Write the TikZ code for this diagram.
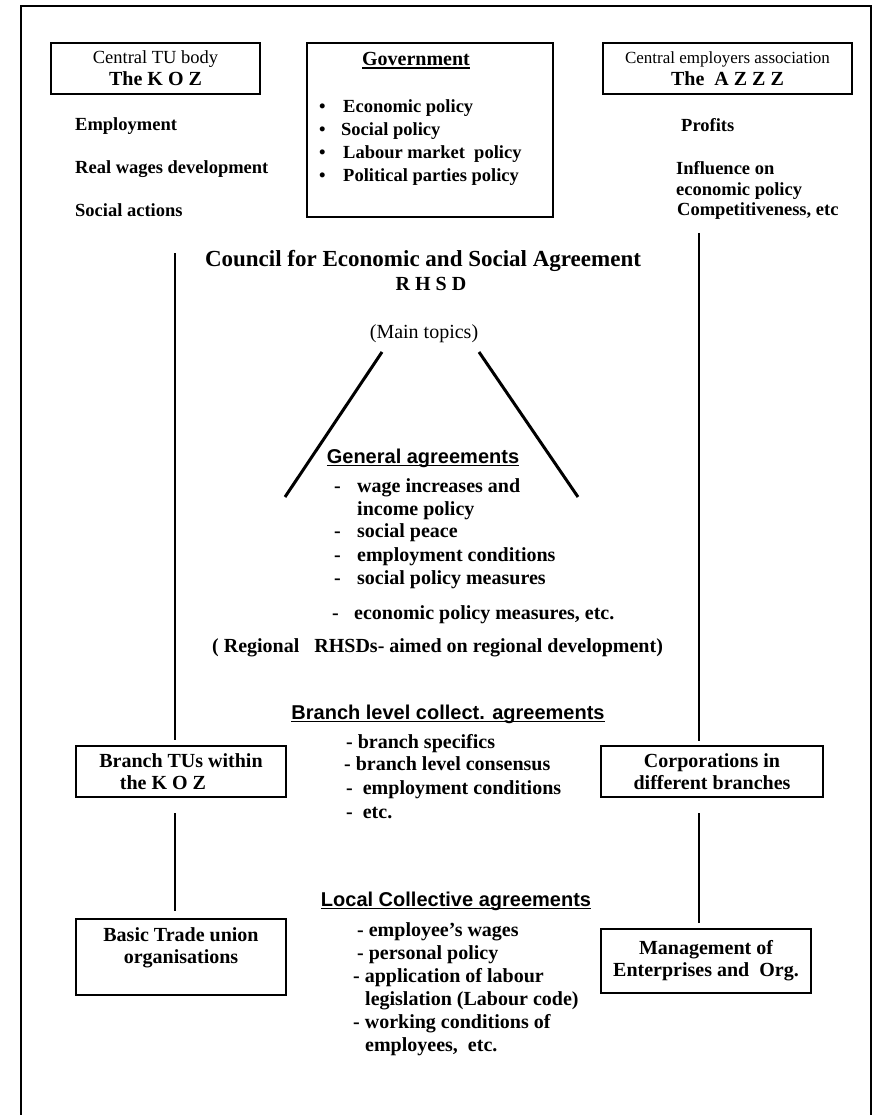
\documentclass[tikz,border=0pt]{standalone}
\usepackage{fontspec}
\setmainfont{Liberation Serif}
\newfontfamily\arialfont{Liberation Sans}
\newcommand{\ulx}[1]{{\setbox0\hbox{#1}\rlap{\rule[-3pt]{\wd0}{1.5pt}}\box0}}
\tikzset{
  box/.style={draw, line width=2.6pt, inner sep=0pt, align=center, font=\fontsize{20}{22}\selectfont\bfseries},
  txt/.style={inner sep=0pt, anchor=base west, font=\fontsize{20}{23}\selectfont\bfseries},
  mid/.style={inner sep=0pt, anchor=base west, font=\fontsize{18.5}{22}\selectfont\bfseries},
  head/.style={inner sep=0pt, anchor=base, font=\arialfont\fontsize{20}{23}\selectfont\bfseries},
  conn/.style={line width=2.5pt},
  diag/.style={line width=3pt},
}
\begin{document}
\begin{tikzpicture}[x=1pt,y=-1pt]
\useasboundingbox (0,0) rectangle (874,1115);
% outer frame
\draw[line width=2pt] (21,1115) -- (21,6) -- (871,6) -- (871,1115);

% top boxes
\node[box, minimum width=209pt, minimum height=51pt] (koz) at (155.5,68.5)
  {{\fontsize{18.5}{22}\selectfont\mdseries Central TU body}\\The K O Z};
\node[box, minimum width=246pt, minimum height=174pt] (gov) at (430,130) {};
\node[box, minimum width=249pt, minimum height=51pt] (azzz) at (727.5,68.5)
  {{\fontsize{17}{22}\selectfont\mdseries Central employers association}\\The\ \ A Z Z Z};

% government contents
\node[txt, anchor=base] (govt) at (416,66) {\ulx{Government}};
\node[mid] (g1) at (319,112.5) {\makebox[24pt][l]{•}Economic policy};
\node[mid] (g2) at (319,135.5) {\makebox[22pt][l]{•}Social policy};
\node[mid] (g3) at (319,158.5) {\makebox[24pt][l]{•}Labour market\ \ policy};
\node[mid] (g4) at (319,181.5) {\makebox[24pt][l]{•}Political parties policy};

% left texts
\node[mid] (l1) at (75,130.5) {Employment};
\node[mid] (l2) at (75,173.5) {Real wages development};
\node[mid] (l3) at (75,216.5) {Social actions};

% right texts
\node[mid] (r1) at (681,131.5) {Profits};
\node[mid] (r2) at (676,174.5) {Influence on};
\node[mid] (r3) at (676,195.5) {economic policy};
\node[mid] (r4) at (677,215.5) {Competitiveness, etc};

% council
\node[txt, anchor=base, font=\fontsize{23}{27}\selectfont\bfseries] (council) at (423,266) {Council for Economic and Social Agreement};
\node[txt, anchor=base] (rhsd) at (431,290) {R H S D};
\node[txt, anchor=base, font=\fontsize{20}{23}\selectfont] (topics) at (424,338) {(Main topics)};

% diagonals
\coordinate (d1a) at (382,352);
\coordinate (d1b) at (285,497);
\coordinate (d2a) at (479,352);
\coordinate (d2b) at (578,497);
\draw[diag] (d1a) -- (d1b);
\draw[diag] (d2a) -- (d2b);

% general agreements
\node[head] (gen) at (423,463) {\ulx{General agreements}};
\node[txt] (ga1) at (334,492) {\makebox[23pt][l]{-}wage increases and};
\node[txt] (ga1b) at (357,515) {income policy};
\node[txt] (ga2) at (334,537) {\makebox[23pt][l]{-}social peace};
\node[txt] (ga3) at (334,561) {\makebox[23pt][l]{-}employment conditions};
\node[txt] (ga4) at (334,584) {\makebox[23pt][l]{-}social policy measures};
\node[txt] (ga5) at (332,619) {\makebox[22pt][l]{-}economic policy measures, etc.};
\node[txt] (reg) at (212,652) {( Regional\ \ \ RHSDs- aimed on regional development)};

% branch level
\node[head] (branch) at (448,719) {\ulx{Branch level collect. agreements}};
\node[txt] (b1) at (346,748) {- branch specifics};
\node[txt] (b2) at (344,770) {- branch level consensus};
\node[txt] (b3) at (346,794) {-\ \ employment conditions};
\node[txt] (b4) at (346,818) {-\ \ etc.};

\node[box, minimum width=210pt, minimum height=51pt] (bt) at (181,771.5)
  {Branch TUs within\\the K O Z\hspace*{36pt}};
\node[box, minimum width=222pt, minimum height=51pt] (corp) at (712,771.5)
  {Corporations in\\different branches};

% local level
\node[head] (local) at (456,906) {\ulx{Local Collective agreements}};
\node[txt] (c1) at (357,936) {- employee’s wages};
\node[txt] (c2) at (357,959) {- personal policy};
\node[txt] (c3) at (353,982) {- application of labour};
\node[txt] (c3b) at (365,1005) {legislation (Labour code)};
\node[txt] (c4) at (353,1028) {- working conditions of};
\node[txt] (c4b) at (365,1051) {employees,\ \ etc.};

\node[box, minimum width=210pt, minimum height=76pt] (basic) at (181,957)
  {Basic Trade union\\organisations\\\mbox{}};
\node[box, minimum width=210pt, minimum height=64pt] (mgmt) at (706,961)
  {Management of\\Enterprises and\ \ Org.};

% vertical connectors
\coordinate (ltop) at (175,253);
\coordinate (rtop) at (699,233);
\draw[conn, shorten >=5pt] (ltop) -- (ltop |- bt.north);
\draw[conn, shorten <=15pt, shorten >=7pt] (bt.south -| ltop) -- (basic.north -| ltop);
\draw[conn, shorten >=4pt] (rtop) -- (rtop |- corp.north);
\draw[conn, shorten <=15pt, shorten >=5pt] (corp.south -| rtop) -- (mgmt.north -| rtop);
\end{tikzpicture}
\end{document}
